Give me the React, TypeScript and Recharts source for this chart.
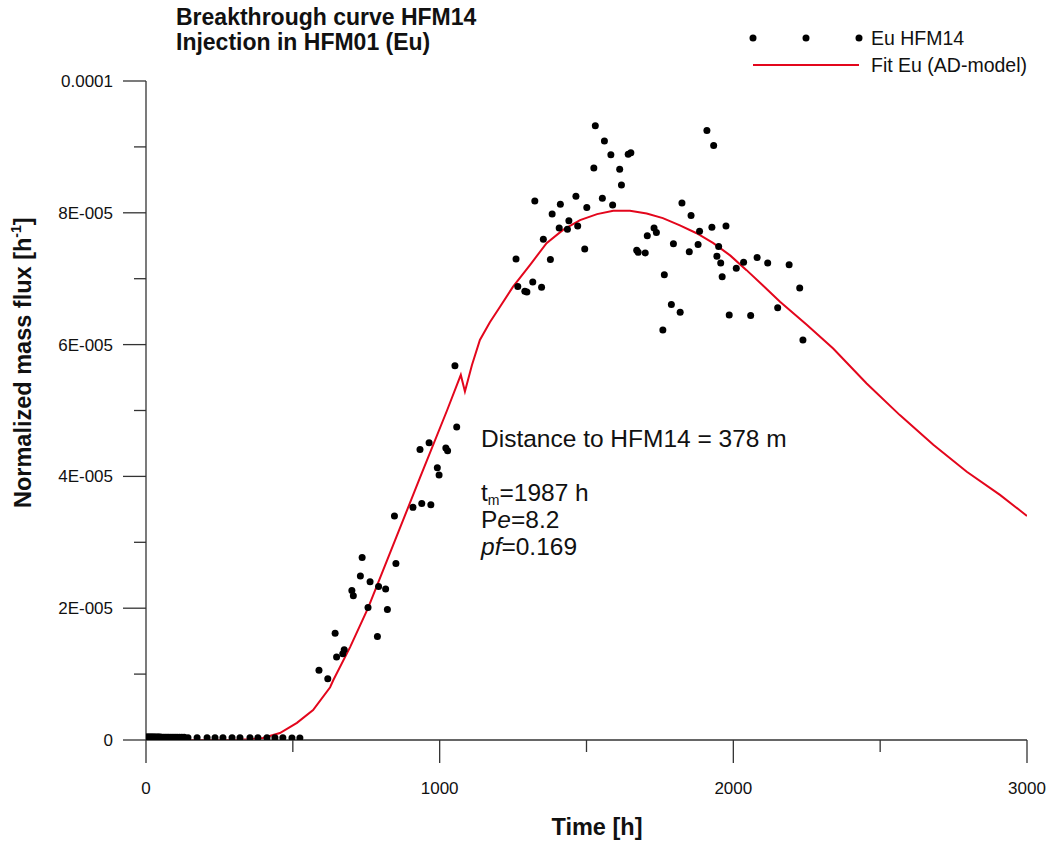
import React from "react";
import { ComposedChart, Line, Scatter, XAxis, YAxis } from "recharts";

// Measured data (Eu HFM14): time [h], normalized mass flux [1/h]
const obsTime = [
  0, 4, 8, 12, 16, 20, 24, 28, 33, 38, 43, 48, 54, 60, 66, 72, 78, 85, 92, 99, 106, 114, 122, 130,
  143, 174, 208, 235, 262, 293, 320, 354, 381, 412, 439, 466, 497, 524,
  589, 619, 644, 649, 670, 675, 701, 706, 730, 736, 756, 763, 788, 792, 816, 822, 846, 851,
  909, 933, 939, 964, 970, 992, 998, 1021, 1027, 1052, 1058,
  1260, 1266, 1290, 1297, 1317, 1324, 1347, 1353, 1377, 1383, 1407, 1411, 1435, 1440, 1464, 1470,
  1494, 1501, 1525, 1530, 1554, 1561, 1583, 1589, 1613, 1619, 1642, 1651, 1671, 1676, 1700, 1707,
  1730, 1738, 1760, 1765, 1789, 1796, 1819, 1825, 1850, 1856, 1880, 1885, 1910, 1927, 1933, 1944,
  1950, 1957, 1962, 1975, 1986, 2010, 2035, 2059, 2081, 2117, 2151, 2190, 2226, 2237,
];
const obsFlux = [
  0.45e-6, 0.45e-6, 0.45e-6, 0.45e-6, 0.45e-6, 0.45e-6, 0.45e-6, 0.45e-6, 0.45e-6, 0.45e-6, 0.45e-6, 0.45e-6,
  0.4e-6, 0.4e-6, 0.4e-6, 0.4e-6, 0.4e-6, 0.4e-6, 0.4e-6, 0.4e-6, 0.4e-6, 0.4e-6, 0.4e-6, 0.4e-6,
  0.35e-6, 0.35e-6, 0.35e-6, 0.35e-6, 0.35e-6, 0.35e-6, 0.35e-6, 0.35e-6, 0.35e-6, 0.35e-6, 0.35e-6, 0.35e-6, 0.3e-6, 0.3e-6,
  1.06e-5, 0.93e-5, 1.62e-5, 1.26e-5, 1.31e-5, 1.37e-5, 2.27e-5, 2.19e-5, 2.49e-5, 2.77e-5, 2.01e-5, 2.4e-5,
  1.57e-5, 2.33e-5, 2.29e-5, 1.98e-5, 3.4e-5, 2.68e-5,
  3.53e-5, 4.41e-5, 3.59e-5, 4.51e-5, 3.57e-5, 4.13e-5, 4.02e-5, 4.43e-5, 4.39e-5, 5.68e-5, 4.75e-5,
  7.3e-5, 6.88e-5, 6.81e-5, 6.8e-5, 6.95e-5, 8.18e-5, 6.87e-5, 7.6e-5, 7.29e-5, 7.98e-5, 7.77e-5, 8.13e-5,
  7.75e-5, 7.88e-5, 8.25e-5, 7.8e-5,
  7.45e-5, 8.08e-5, 8.68e-5, 9.32e-5, 8.22e-5, 9.09e-5, 8.88e-5, 8.12e-5, 8.66e-5, 8.42e-5, 8.89e-5, 8.91e-5,
  7.43e-5, 7.4e-5, 7.39e-5, 7.65e-5,
  7.77e-5, 7.7e-5, 6.22e-5, 7.06e-5, 6.61e-5, 7.53e-5, 6.49e-5, 8.15e-5, 7.41e-5, 7.96e-5, 7.52e-5, 7.72e-5,
  9.25e-5, 7.78e-5, 9.02e-5, 7.34e-5,
  7.49e-5, 7.24e-5, 7.03e-5, 7.8e-5, 6.45e-5, 7.16e-5, 7.25e-5, 6.44e-5, 7.32e-5, 7.24e-5, 6.56e-5, 7.21e-5, 6.86e-5, 6.07e-5,
];

// Fitted curve (AD-model)
const fitTime = [
  0, 100, 200, 300, 350, 398, 456, 514, 569, 627, 638, 695, 756, 831, 933, 1025, 1072, 1086,
  1110, 1137, 1171, 1205, 1250, 1308, 1364, 1420, 1478, 1536, 1591, 1648, 1705, 1760, 1818, 1875, 1932,
  1990, 2045, 2100, 2159, 2250, 2340, 2454, 2567, 2681, 2795, 2908, 3000,
];
const fitFlux = [
  0, 0, 0, 0.01e-6, 0.1e-6, 0.3e-6, 1.06e-6, 2.6e-6, 4.55e-6, 8.0e-6, 9.1e-6, 1.41e-5, 2.0e-5, 2.84e-5, 3.98e-5, 5.0e-5, 5.54e-5, 5.29e-5,
  5.69e-5, 6.07e-5, 6.34e-5, 6.57e-5, 6.88e-5, 7.21e-5, 7.54e-5, 7.74e-5, 7.89e-5, 7.98e-5, 8.03e-5, 8.03e-5, 7.99e-5, 7.92e-5, 7.81e-5, 7.69e-5, 7.54e-5,
  7.35e-5, 7.13e-5, 6.9e-5, 6.65e-5, 6.3e-5, 5.94e-5, 5.41e-5, 4.93e-5, 4.48e-5, 4.07e-5, 3.72e-5, 3.4e-5,
];

const xTicks = [0, 500, 1000, 1500, 2000, 2500, 3000];
const xTickLabels = ["0", "", "1000", "", "2000", "", "3000"];
const yTicks = [0, 1e-5, 2e-5, 3e-5, 4e-5, 5e-5, 6e-5, 7e-5, 8e-5, 9e-5, 1e-4];
const yTickLabels = ["0", "", "2E-005", "", "4E-005", "", "6E-005", "", "8E-005", "", "0.0001"];

const obsData = obsTime.map((t, i) => ({ x: t, y: obsFlux[i] }));
const fitData = fitTime.map((t, i) => ({ x: t, y: fitFlux[i] }));

const FONT = "'Liberation Sans', Arial, sans-serif";
const AXIS = "#333333";
const RED = "#e3061c";

const XTick = (props: any) => {
  const { x, y, index } = props;
  const label = xTickLabels[index];
  const major = label !== "";
  return (
    <g>
      <line x1={x} y1={y} x2={x} y2={y + (major ? 23 : 12)} stroke={AXIS} strokeWidth={1.3} />
      {major && (
        <text x={x} y={y + 54} textAnchor="middle" fontSize={17} fontFamily={FONT} fill="#111">
          {label}
        </text>
      )}
    </g>
  );
};

const YTick = (props: any) => {
  const { x, y, index } = props;
  const label = yTickLabels[index];
  const major = label !== "";
  return (
    <g>
      <line x1={x - (major ? 23 : 12)} y1={y} x2={x} y2={y} stroke={AXIS} strokeWidth={1.3} />
      {major && (
        <text x={x - 33} y={y + 6} textAnchor="end" fontSize={17} fontFamily={FONT} fill="#111">
          {label}
        </text>
      )}
    </g>
  );
};

const Dot = (props: any) => <circle cx={props.cx} cy={props.cy} r={3.5} fill="#000" />;

export default function App() {
  return (
    <div style={{ position: "absolute", left: 0, top: 0, width: 1053, height: 843, background: "#fff" }}>
      <ComposedChart
        width={1053}
        height={843}
        margin={{ top: 81, right: 26, left: 0, bottom: 0 }}
        style={{ fontFamily: FONT }}
      >
        <XAxis
          type="number"
          dataKey="x"
          domain={[0, 3000]}
          ticks={xTicks}
          interval={0}
          height={103}
          tickSize={0}
          tickMargin={0}
          tickLine={false}
          axisLine={{ stroke: AXIS, strokeWidth: 1.3 }}
          tick={<XTick />}
          allowDataOverflow
        />
        <YAxis
          type="number"
          dataKey="y"
          domain={[0, 1e-4]}
          ticks={yTicks}
          interval={0}
          width={146}
          tickSize={0}
          tickMargin={0}
          tickLine={false}
          axisLine={{ stroke: AXIS, strokeWidth: 1.3 }}
          tick={<YTick />}
          allowDataOverflow
        />
        <Scatter data={obsData} dataKey="y" shape={<Dot />} isAnimationActive={false} />
        <Line
          data={fitData}
          dataKey="y"
          type="linear"
          stroke={RED}
          strokeWidth={2}
          dot={false}
          activeDot={false}
          isAnimationActive={false}
        />
      </ComposedChart>
      <svg
        width={1053}
        height={843}
        style={{ position: "absolute", left: 0, top: 0, pointerEvents: "none" }}
        fontFamily={FONT}
      >
        <text x={176} y={25} fontSize={23} fontWeight="bold" fill="#111">Breakthrough curve HFM14</text>
        <text x={176} y={50} fontSize={23} fontWeight="bold" fill="#111">Injection in HFM01 (Eu)</text>

        <circle cx={753} cy={38} r={3.5} fill="#000" />
        <circle cx={806} cy={38} r={3.5} fill="#000" />
        <circle cx={859} cy={38} r={3.5} fill="#000" />
        <text x={871} y={45} fontSize={19.5} fill="#111">Eu HFM14</text>
        <line x1={753} y1={65} x2={859} y2={65} stroke={RED} strokeWidth={2} />
        <text x={871} y={72} fontSize={19.5} fill="#111">Fit Eu (AD-model)</text>

        <text x={481} y={447} fontSize={24.5} fill="#111">Distance to HFM14 = 378 m</text>
        <text x={481} y={501} fontSize={24.5} fill="#111">
          t<tspan fontSize={14} dy={4}>m</tspan><tspan dy={-4}>=1987 h</tspan>
        </text>
        <text x={481} y={528} fontSize={24.5} fill="#111">
          P<tspan fontStyle="italic">e</tspan>=8.2
        </text>
        <text x={481} y={555} fontSize={24.5} fill="#111">
          <tspan fontStyle="italic">pf</tspan>=0.169
        </text>

        <text x={597} y={835} textAnchor="middle" fontSize={23.5} fontWeight="bold" fill="#111">Time [h]</text>
        <text transform="translate(31,508) rotate(-90)" textAnchor="start" fontSize={23.5} fontWeight="bold" fill="#111">
          Normalized mass flux [h<tspan fontSize={14} dy={-10}>-1</tspan><tspan dy={10}>]</tspan>
        </text>
      </svg>
    </div>
  );
}
